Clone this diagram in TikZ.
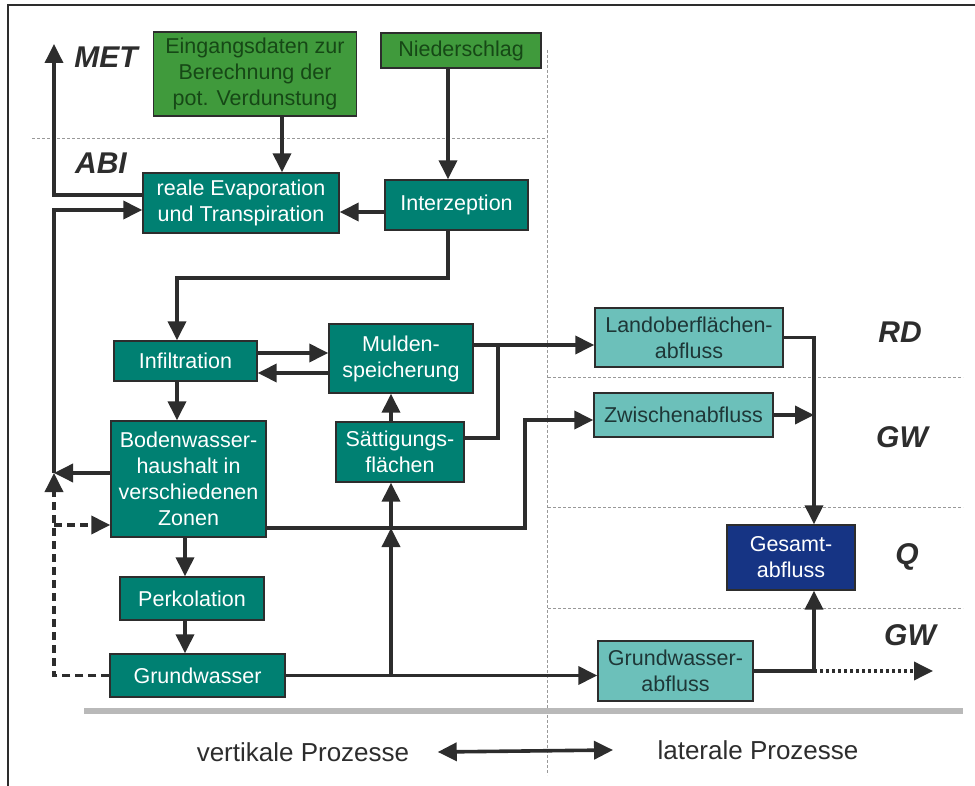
\documentclass[tikz,border=0pt]{standalone}
\usepackage{fontspec}
\setmainfont{Liberation Sans}
\usetikzlibrary{arrows.meta,calc}

\definecolor{boxgreen}{RGB}{64,154,60}
\definecolor{darkgreen}{RGB}{22,72,22}
\definecolor{boxteal}{RGB}{0,128,114}
\definecolor{paleteal}{RGB}{108,192,186}
\definecolor{paletext}{RGB}{30,55,55}
\definecolor{boxblue}{RGB}{22,52,132}
\definecolor{linegray}{RGB}{45,45,45}
\newcommand{\boxfont}{\fontsize{21.5}{26}\selectfont}

\begin{document}
\begin{tikzpicture}[x=1pt,y=-1pt,>={Triangle[length=19pt,width=18pt]},
  flow/.style={->,line width=3.6pt,draw=linegray},
  base node/.style={rectangle,draw=linegray,line width=1.4pt,inner sep=0pt,align=center,font=\boxfont},
  green node/.style={base node,fill=boxgreen,text=darkgreen},
  teal node/.style={base node,fill=boxteal,text=white},
  pale node/.style={base node,fill=paleteal,text=paletext},
  blue node/.style={base node,fill=boxblue,text=white},
  zone/.style={font=\fontsize{30}{36}\selectfont\bfseries\itshape,text=linegray},
  guide/.style={draw=gray!80,line width=0.9pt,dash pattern=on 3pt off 2pt}]

  \useasboundingbox (0,0) rectangle (975,786);

  % frame, guides, ground bar
  \draw[linegray,line width=2pt] (8,786) -- (8,5) -- (975,5);
  \draw[guide] (32,138) -- (547,138);
  \draw[guide] (547,50) -- (547,775);
  \draw[guide] (548,377) -- (963,377);
  \draw[guide] (548,507) -- (963,507);
  \draw[guide] (548,608) -- (963,608);
  \draw[gray!55,line width=6pt] (84,711) -- (963,711);

  % boxes
  \node[green node,minimum width=203pt,minimum height=84pt] (1) at (255,74) {Eingangsdaten zur\\Berechnung der\\pot. Verdunstung};
  \node[green node,minimum width=160pt,minimum height=35pt] (2) at (461,50.5) {Niederschlag};
  \node[teal node,minimum width=196pt,minimum height=60pt] (3) at (241,203) {reale Evaporation\\und Transpiration};
  \node[teal node,minimum width=143pt,minimum height=50pt] (4) at (456.5,205) {Interzeption};
  \node[teal node,minimum width=143pt,minimum height=40pt] (5) at (185.5,361) {Infiltration};
  \node[teal node,minimum width=144pt,minimum height=69pt] (6) at (401,358.5) {Mulden-\\speicherung};
  \node[teal node,minimum width=155pt,minimum height=116pt] (7) at (188.5,479) {Bodenwasser-\\haushalt in\\verschiedenen\\Zonen};
  \node[teal node,minimum width=128pt,minimum height=60pt] (8) at (400,452) {Sättigungs-\\flächen};
  \node[teal node,minimum width=144pt,minimum height=43pt] (9) at (192,598.5) {Perkolation};
  \node[teal node,minimum width=175pt,minimum height=43pt] (10) at (197.5,675.5) {Grundwasser};
  \node[pale node,minimum width=188pt,minimum height=59pt] (11) at (689,337.5) {Landoberflächen-\\abfluss};
  \node[pale node,minimum width=179pt,minimum height=44pt] (12) at (683.5,415) {Zwischenabfluss};
  \node[blue node,minimum width=128pt,minimum height=65pt] (13) at (791,557.5) {Gesamt-\\abfluss};
  \node[pale node,minimum width=155pt,minimum height=60pt] (14) at (675.5,671) {Grundwasser-\\abfluss};

  % zone labels
  \node[zone] (17) at (106,57) {MET};
  \node[zone] (18) at (101,163) {ABI};
  \node[zone] (19) at (900,332) {RD};
  \node[zone] (20) at (902,437) {GW};
  \node[zone] (21) at (907,557) {Q};
  \node[zone] (22) at (910,635) {GW};

  \node[font=\fontsize{26}{30}\selectfont,text=linegray] (15) at (303,752) {vertikale Prozesse};
  \node[font=\fontsize{26}{30}\selectfont,text=linegray] (16) at (758,750) {laterale Prozesse};

  \coordinate (met) at (54,44);
  \coordinate (j1) at (54,473);
  \coordinate (j2) at (54,525);
  \coordinate (j3) at (498,345);
  \coordinate (j4) at (525,420);
  \coordinate (j5) at (391,528);
  \coordinate (j6) at (814,414);
  \coordinate (j7) at (814,671);
  \coordinate (j8) at (448,278);
  \coordinate (out) at (933,671);

  % vertical processes
  \draw[flow] (1.south -| 282,0) -- (3.north -| 282,0);
  \draw[flow] (2.south -| j8) -- (4.north -| j8);
  \draw[flow] (4.west |- 0,212) -- (3.east |- 0,212);
  \draw[flow] (4.south -| j8) -- (j8) -| (5.north -| 177,0);
  \draw[flow] (3.west |- 0,195) -| (met);
  \draw[flow] (7.west |- j1) -- (j1);
  \draw[flow] (j1) |- (3.west |- 0,210);
  \draw[flow,dash pattern=on 8pt off 5pt] (10.west) -| (j1);
  \draw[flow,dash pattern=on 8pt off 5pt] (j2) -- (7.west |- j2);
  \draw[flow] (5.east |- 0,353) -- (6.west |- 0,353);
  \draw[flow] (6.west |- 0,373) -- (5.east |- 0,373);
  \draw[flow] (5.south -| 177,0) -- (7.north -| 177,0);
  \draw[flow] (7.south -| 185,0) -- (9.north -| 185,0);
  \draw[flow] (9.south -| 185,0) -- (10.north -| 185,0);
  \draw[flow] (8.north -| j5) -- (6.south -| j5);
  \draw[flow] (j5 |- 10.east) -- (j5);
  \draw[flow] (j5) -- (8.south -| j5);

  % lateral processes
  \draw[flow] (6.east |- j3) -- (11.west |- j3);
  \draw[line width=3.6pt,linegray] (8.east |- 0,438) -| (j3);
  \draw[flow] (7.east |- j5) -| (j4) -- (12.west |- j4);
  \draw[flow] (10.east) -- (14.west |- 10.east);
  \draw[flow] (11.east) -| (13.north -| j6);
  \draw[flow] (12.east) -- (12.east -| j6);
  \draw[flow] (14.east |- j7) -| (13.south -| j7);
  \draw[flow,dash pattern=on 3pt off 3pt] (j7) -- (out);

  \draw[flow,<->] ([xshift=25pt]15.east) -- ([xshift=-41pt]16.west);

\end{tikzpicture}
\end{document}
